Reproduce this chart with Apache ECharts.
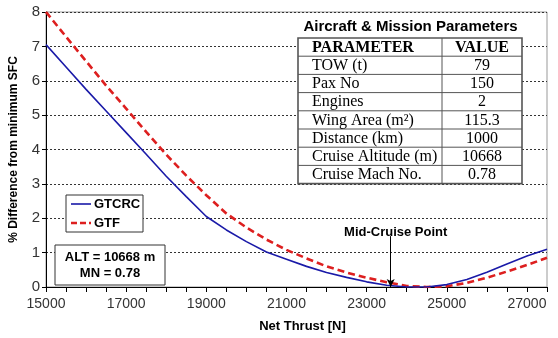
<!DOCTYPE html>
<html><head><meta charset="utf-8">
<script src="https://cdn.jsdelivr.net/npm/echarts@6/dist/echarts.min.js"></script>
<style>html,body{margin:0;padding:0;background:#fff}#c{width:558px;height:338px}</style>
</head><body><div id="c"></div>
<script>
var thrust = [15000,15500,16000,16500,17000,17500,18000,18500,19000,19500,20000,20500,21000,21500,22000,22500,23000,23500,24000,24500,25000,25500,26000,26500,27000,27500];
var gtcrc  = [7.05,6.40,5.75,5.12,4.49,3.86,3.22,2.63,2.05,1.66,1.32,1.02,0.81,0.60,0.42,0.28,0.15,0.05,0.00,0.00,0.07,0.22,0.43,0.67,0.90,1.10];
var gtf    = [8.00,7.28,6.57,5.86,5.19,4.51,3.85,3.24,2.67,2.14,1.73,1.38,1.08,0.83,0.60,0.42,0.27,0.14,0.03,0.00,0.02,0.12,0.27,0.45,0.64,0.85];
var seriesNames = ['GTCRC','GTF'];
var seriesColors = ['#1a1aa8','#dd1f1f'];
var midCruise = {x: 23600, top: 1.48, labelY: 1.6, text: 'Mid-Cruise Point'};
var xTickLabels = [15000,17000,19000,21000,23000,25000,27000];
var tableTitle = 'Aircraft & Mission Parameters';
var tableHeader = ['PARAMETER','VALUE'];
var tableParams = ['TOW (t)','Pax No','Engines','Wing Area (m²)','Distance (km)','Cruise Altitude (m)','Cruise Mach No.'];
var tableValues = ['79','150','2','115.3','1000','10668','0.78'];
var condLines = ['ALT = 10668 m','MN = 0.78'];

function pairs(xs, ys){ return xs.map(function(x,i){return [x, ys[i]];}); }

var sansB = '"Liberation Sans", Arial, sans-serif';
var g = [];
// table
var tL = 298, tR = 522, tC = 442, tTop = 38, rowH = 18.2;
g.push({type:'rect', z:100, shape:{x:tL, y:tTop, width:tR-tL, height:rowH*8}, style:{fill:'#fff', stroke:'#555', lineWidth:1.6}});
for (var r=1;r<8;r++){
  g.push({type:'line', z:101, shape:{x1:tL, y1:tTop+r*rowH, x2:tR, y2:tTop+r*rowH}, style:{stroke:'#555', lineWidth:1}});
}
g.push({type:'line', z:101, shape:{x1:tC, y1:tTop, x2:tC, y2:tTop+8*rowH}, style:{stroke:'#555', lineWidth:1}});
g.push({type:'text', z:102, x:(tL+tR)/2 + 0.5, y:27, style:{text:tableTitle, font:'bold 15px ' + sansB, fill:'#000', align:'center', verticalAlign:'middle'}});
var rowsP = [tableHeader[0]].concat(tableParams), rowsV = [tableHeader[1]].concat(tableValues);
for (var i=0;i<8;i++){
  var cy = tTop + i*rowH + rowH/2 + 0.5;
  var f = (i===0 ? 'bold ' : '') + '16px "Liberation Serif", "Times New Roman", serif';
  g.push({type:'text', z:102, x:tL+14, y:cy, style:{text:rowsP[i], font:f, fill:'#000', align:'left', verticalAlign:'middle'}});
  g.push({type:'text', z:102, x:(tC+tR)/2, y:cy, style:{text:rowsV[i], font:f, fill:'#000', align:'center', verticalAlign:'middle'}});
}
// legend box
g.push({type:'rect', z:100, shape:{x:66, y:195, width:77, height:37}, style:{fill:'#fff', stroke:'#333', lineWidth:1}});
g.push({type:'line', z:101, shape:{x1:71, y1:204, x2:91, y2:204}, style:{stroke:seriesColors[0], lineWidth:1.6}});
g.push({type:'line', z:101, shape:{x1:71, y1:223, x2:91, y2:223}, style:{stroke:seriesColors[1], lineWidth:2.6, lineDash:[6,3]}});
g.push({type:'text', z:102, x:94, y:204, style:{text:seriesNames[0], font:'bold 13px ' + sansB, fill:'#000', align:'left', verticalAlign:'middle'}});
g.push({type:'text', z:102, x:94, y:223, style:{text:seriesNames[1], font:'bold 13px ' + sansB, fill:'#000', align:'left', verticalAlign:'middle'}});
// ALT / MN box
g.push({type:'rect', z:100, shape:{x:55, y:245, width:110, height:40}, style:{fill:'#fff', stroke:'#333', lineWidth:1}});
g.push({type:'text', z:102, x:110, y:257, style:{text:condLines[0], font:'bold 13px ' + sansB, fill:'#000', align:'center', verticalAlign:'middle'}});
g.push({type:'text', z:102, x:110, y:273, style:{text:condLines[1], font:'bold 13px ' + sansB, fill:'#000', align:'center', verticalAlign:'middle'}});

var chart = echarts.init(document.getElementById('c'), null, {renderer:'canvas'});
chart.setOption({
  animation:false,
  backgroundColor:'#fff',
  textStyle:{fontFamily:sansB},
  grid:{left:43.5, right:11, top:12, bottom:49.5, show:true, borderColor:'#999', borderWidth:1},
  xAxis:{
    type:'value', min:15000, max:27500, interval:500,
    name:'Net Thrust [N]', nameLocation:'middle', nameGap:33,
    nameTextStyle:{fontSize:13, fontWeight:'bold', color:'#000', padding:[0,0,0,12]},
    axisLine:{lineStyle:{color:'#000', width:1}},
    axisTick:{show:true, length:5, lineStyle:{color:'#000'}},
    axisLabel:{fontSize:14, color:'#333', margin:10, formatter:function(v){ return xTickLabels.indexOf(v)>=0 ? String(v) : ''; }},
    splitLine:{show:false}
  },
  yAxis:{
    type:'value', min:0, max:8, interval:1,
    name:'% Difference from minimum SFC', nameLocation:'middle', nameGap:26,
    nameTextStyle:{fontSize:12, fontWeight:'bold', color:'#000'},
    axisLine:{show:true, lineStyle:{color:'#000', width:1}},
    axisTick:{show:true, length:4, lineStyle:{color:'#000'}},
    axisLabel:{fontSize:15, color:'#333', margin:6},
    splitLine:{show:true, lineStyle:{color:'#333', width:1, type:[2,2]}}
  },
  series:[
    {name:seriesNames[0], type:'line', data:pairs(thrust,gtcrc), symbol:'none', smooth:false,
     lineStyle:{color:seriesColors[0], width:1.6}, itemStyle:{color:seriesColors[0]}, z:3,
     markLine:{silent:true, symbol:['none','arrow'], symbolSize:[6,8],
       lineStyle:{color:'#000', width:1, type:'solid'}, label:{show:false},
       data:[[{coord:[midCruise.x, midCruise.top]},{coord:[midCruise.x, 0]}]]},
     markPoint:{silent:true, symbol:'circle', symbolSize:0,
       label:{show:true, position:'inside', formatter:midCruise.text, fontSize:13, fontWeight:'bold', color:'#000', offset:[5,0]},
       data:[{coord:[midCruise.x, midCruise.labelY]}]}
    },
    {name:seriesNames[1], type:'line', data:pairs(thrust,gtf), symbol:'none', smooth:false,
     lineStyle:{color:seriesColors[1], width:2.6, type:[7,4]}, itemStyle:{color:seriesColors[1]}, z:2}
  ],
  graphic:g
});
</script></body></html>
